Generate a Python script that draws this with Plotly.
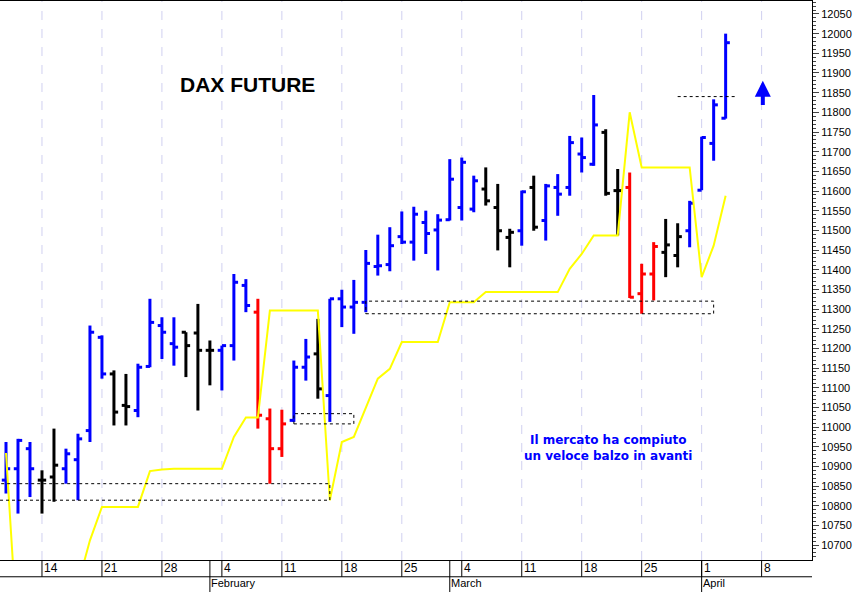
import plotly.graph_objects as go

# trading days from 9 Jan 2019 (index 0) to 3 Apr 2019
days = ["01-09", "01-10", "01-11", "01-14", "01-15", "01-16", "01-17", "01-18",
        "01-21", "01-22", "01-23", "01-24", "01-25", "01-28", "01-29", "01-30",
        "01-31", "02-01", "02-04", "02-05", "02-06", "02-07", "02-08", "02-11",
        "02-12", "02-13", "02-14", "02-15", "02-18", "02-19", "02-20", "02-21",
        "02-22", "02-25", "02-26", "02-27", "02-28", "03-01", "03-04", "03-05",
        "03-06", "03-07", "03-08", "03-11", "03-12", "03-13", "03-14", "03-15",
        "03-18", "03-19", "03-20", "03-21", "03-22", "03-25", "03-26", "03-27",
        "03-28", "03-29", "04-01", "04-02", "04-03"]

opens = [10865, 10894, 10945, 10865, 10873, 10894, 10917, 10991, 11228, 11135,
         11055, 11042, 11154, 11258, 11212, 11241, 11239, 11195, 11195, 11207,
         11360, 11292, 11021, 10945, 11017, 11152, 11186, 11080, 11326, 11305,
         11317, 11408, 11413, 11484, 11470, 11520, 11501, 11527, 11558, 11554,
         11605, 11558, 11482, 11499, 11609, 11525, 11609, 11609, 11694, 11668,
         11749, 11601, 11609, 11339, 11389, 11444, 11436, 11499, 11602, 11721,
         11785]
highs = [10962, 10970, 10962, 10890, 10996, 10945, 10983, 11258, 11233, 11144,
         11135, 11161, 11326, 11279, 11279, 11241, 11313, 11220, 11207, 11389,
         11376, 11326, 11047, 11044, 11169, 11224, 11275, 11326, 11349, 11374,
         11450, 11489, 11508, 11548, 11560, 11550, 11541, 11681, 11685, 11639,
         11660, 11618, 11504, 11601, 11639, 11618, 11643, 11740, 11736, 11844,
         11757, 11656, 11647, 11415, 11470, 11529, 11518, 11575, 11738, 11833,
         12000]
lows = [10831, 10780, 10822, 10780, 10810, 10856, 10814, 10962, 11123, 11004,
        11004, 11025, 11152, 11173, 11156, 11127, 11042, 11106, 11093, 11169,
        11292, 10996, 10856, 10924, 11013, 11118, 11072, 11013, 11254, 11237,
        11292, 11385, 11396, 11465, 11423, 11440, 11398, 11525, 11525, 11546,
        11563, 11449, 11406, 11461, 11499, 11474, 11537, 11588, 11647, 11664,
        11588, 11487, 11328, 11288, 11322, 11381, 11406, 11457, 11602, 11677,
        11784]
closes = [10894, 10966, 10894, 10865, 10903, 10932, 10970, 11241, 11135, 11038,
          11052, 11152, 11266, 11241, 11203, 11207, 11195, 11195, 11207, 11368,
          11309, 11030, 10945, 11008, 11152, 11178, 11097, 11326, 11305, 11317,
          11416, 11410, 11461, 11470, 11541, 11492, 11526, 11630, 11673, 11626,
          11575, 11499, 11495, 11598, 11508, 11613, 11592, 11723, 11685, 11768,
          11594, 11601, 11330, 11389, 11459, 11463, 11484, 11569, 11736, 11819,
          11977]
colors = ["b", "b", "b", "k", "k", "b", "b", "b", "b", "k", "k", "b", "b", "b",
          "b", "k", "k", "k", "b", "b", "b", "r", "r", "r", "b", "b", "k", "b",
          "b", "b", "b", "b", "b", "b", "b", "b", "b", "b", "b", "b", "k", "k",
          "k", "b", "k", "b", "b", "b", "b", "b", "k", "k", "r", "r", "r", "k",
          "k", "b", "b", "b", "b"]

stop_line = [10934, 10450, 10400, 10400, 10400, 10450, 10600, 10712, 10797, 10797,
             10797, 10797, 10888, 10892, 10894, 10894, 10894, 10894, 10894, 10975,
             11024, 11024, 11296, 11296, 11296, 11296, 11296, 10814, 10962, 10975,
             11047, 11123, 11148, 11216, 11216, 11216, 11216, 11317, 11317, 11317,
             11343, 11343, 11343, 11343, 11343, 11343, 11343, 11402, 11440, 11487,
             11487, 11487, 11800, 11660, 11660, 11660, 11660, 11660, 11381, 11461,
             11588]

# dotted boxes: (start idx, end idx, top, bottom)
boxes = [(-1, 27, 10856, 10814), (24, 29, 11034, 11008), (30, 59, 11320, 11288)]
breakout_level = 11840
breakout_span = (56, 61)

mondays = [3, 8, 13, 18, 23, 28, 33, 38, 43, 48, 53, 58, 63]
monday_labels = ["14", "21", "28", "4", "11", "18", "25", "4", "11", "18", "25", "1", "8"]
month_starts = [17, 37, 58]
month_labels = ["February", "March", "April"]

palette = {"b": "#0000FF", "k": "#000000", "r": "#FF0000"}

fig = go.Figure()

for c in ["b", "k", "r"]:
    xs, ys = [], []
    for i in range(len(days)):
        if colors[i] != c:
            continue
        xs += [i, i, None, i - 0.35, i, None, i, i + 0.35, None]
        ys += [lows[i], highs[i], None, opens[i], opens[i], None, closes[i], closes[i], None]
    fig.add_trace(go.Scatter(x=xs, y=ys, mode="lines", line=dict(color=palette[c], width=3),
                             hoverinfo="skip", showlegend=False))

fig.add_trace(go.Scatter(x=list(range(len(days))), y=stop_line, mode="lines",
                         line=dict(color="#FFFF00", width=2), showlegend=False))

for x0, x1, top, bot in boxes:
    fig.add_shape(type="rect", x0=x0, x1=x1, y0=bot, y1=top,
                  line=dict(color="black", width=1, dash="dot"))
fig.add_shape(type="line", x0=breakout_span[0], x1=breakout_span[1],
              y0=breakout_level, y1=breakout_level,
              line=dict(color="black", width=1, dash="dot"))

# weekly grid + date labels
for m, lab in zip(mondays, monday_labels):
    fig.add_shape(type="line", x0=m, x1=m, y0=0, y1=1, xref="x", yref="paper",
                  line=dict(color="#D0D0F0", width=1, dash="dash"), layer="below")
    fig.add_shape(type="line", x0=m, x1=m, y0=0, y1=-0.03, xref="x", yref="paper",
                  line=dict(color="black", width=1))
    fig.add_annotation(x=m, y=0, xref="x", yref="paper", text=lab, showarrow=False,
                       xanchor="left", yanchor="top", xshift=0, yshift=1,
                       font=dict(family="Arial", size=12, color="black"))
for m, lab in zip(month_starts, month_labels):
    fig.add_shape(type="line", x0=m, x1=m, y0=0, y1=-0.06, xref="x", yref="paper",
                  line=dict(color="black", width=1))
    fig.add_annotation(x=m, y=-0.03, xref="x", yref="paper", text=lab, showarrow=False,
                       xanchor="left", yanchor="top", xshift=-1, yshift=2,
                       font=dict(family="Arial", size=11, color="black"))
fig.add_shape(type="line", x0=0, x1=1, y0=-0.03, y1=-0.03, xref="paper", yref="paper",
              line=dict(color="black", width=1))

fig.add_annotation(x=0.305, y=0.85, xref="paper", yref="paper", text="<b>DAX FUTURE</b>",
                   showarrow=False, xanchor="center", yanchor="middle",
                   font=dict(family="Arial", size=21, color="black"))
fig.add_annotation(x=0.749, y=0.2, xref="paper", yref="paper",
                   text="<b>Il mercato ha compiuto<br>un veloce balzo in avanti</b>",
                   showarrow=False, xanchor="center", yanchor="middle",
                   font=dict(family="DejaVu Sans", size=12, color="#0000FF"))
fig.add_annotation(x=63.1, y=11880, ax=63.1, ay=11815, xref="x", yref="y", axref="x", ayref="y",
                   text="", showarrow=True, arrowhead=2, arrowsize=0.8, arrowwidth=4,
                   arrowcolor="#0000FF")

fig.update_layout(
    width=866, height=592,
    margin=dict(l=0, r=54, t=1, b=32, autoexpand=False),
    plot_bgcolor="white", paper_bgcolor="white",
    xaxis=dict(range=[-0.5, 67.2], showticklabels=False, showgrid=False, zeroline=False,
               ticks="", showline=True, linecolor="black", mirror=True, automargin=False),
    yaxis=dict(range=[10662, 12083], side="right", dtick=50, tick0=10700, showgrid=False,
               zeroline=False, ticks="outside", ticklen=6, showline=True, linecolor="black",
               mirror=True, tickformat="d", automargin=False,
               tickfont=dict(family="Arial", size=11, color="black"),
               minor=dict(dtick=10, ticks="outside", ticklen=3, showgrid=False)),
)

fig.write_html("out.html", config={"displayModeBar": False},
               post_script="document.body.style.margin='0';")
